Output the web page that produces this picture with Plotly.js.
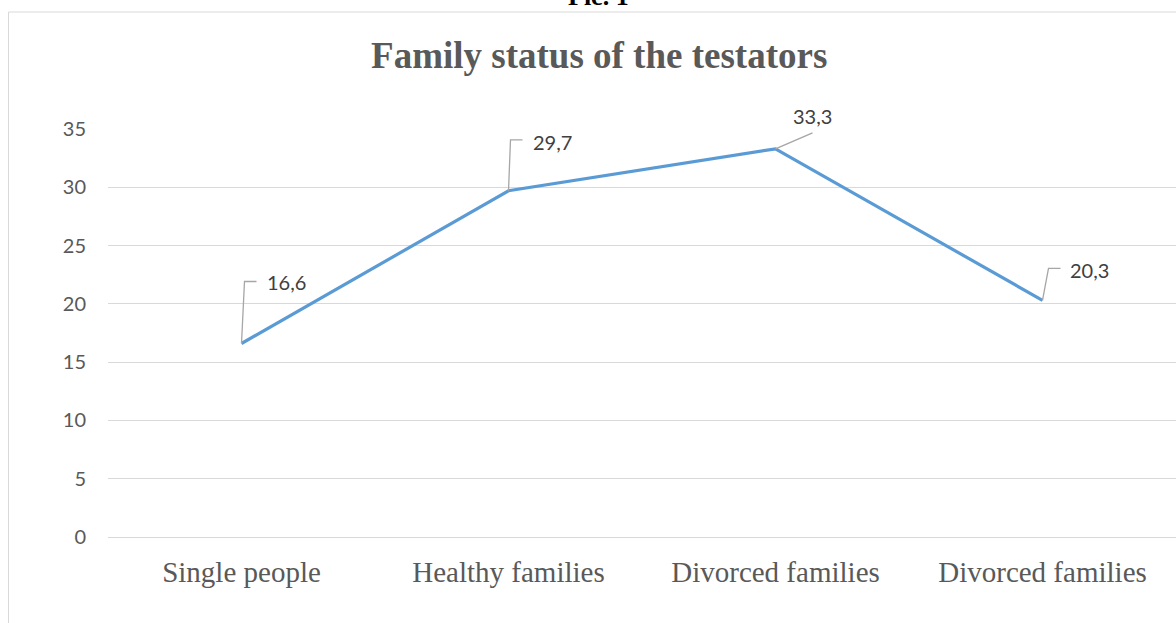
<!DOCTYPE html>
<html>
<head>
<meta charset="utf-8">
<script src="https://cdn.plot.ly/plotly-3.0.1.min.js"></script>
<style>
html,body{margin:0;padding:0;overflow:hidden;background:#fff;}
#chart{width:1176px;height:623px;}
</style>
</head>
<body>
<div id="chart"></div>
<script>
// ---- data ----
var categories = ["Single people", "Healthy families", "Divorced families", "Divorced families"];
var positions = [0, 1, 2, 3];
var values = [16.6, 29.7, 33.3, 20.3];
var valueLabels = ["16,6", "29,7", "33,3", "20,3"];
var yTicks = [0, 5, 10, 15, 20, 25, 30, 35];
var chartTitle = "Family status of the testators";
var pictureCaption = "Pic. 1";

// ---- style of leader lines / labels (pixel offsets from each point) ----
var leaderPaths = [
  "M0,0 L3,62 L15,62",
  "M0,0 L2,51 L14,51",
  "M0,0 L37,16",
  "M0,0 L6,32 L18,32"
];
var labelShift = [
  {dx: 23, dy: 61, anchor: "left"},
  {dx: 22, dy: 49, anchor: "left"},
  {dx: 37, dy: 33, anchor: "center"},
  {dx: 25, dy: 30, anchor: "left"}
];

var trace = {
  x: positions,
  y: values,
  type: "scatter",
  mode: "lines",
  line: {color: "#5b9bd5", width: 3.2},
  hoverinfo: "skip"
};

var shapes = [];
var annotations = [];
for (var i = 0; i < values.length; i++) {
  shapes.push({
    type: "path", xref: "x", yref: "y",
    xsizemode: "pixel", ysizemode: "pixel",
    xanchor: positions[i], yanchor: values[i],
    path: leaderPaths[i],
    line: {color: "#a6a6a6", width: 1.3}
  });
  annotations.push({
    x: positions[i], y: values[i], xref: "x", yref: "y",
    text: valueLabels[i], showarrow: false,
    xanchor: labelShift[i].anchor, yanchor: "middle",
    xshift: labelShift[i].dx, yshift: labelShift[i].dy,
    font: {family: "Lato, 'Open Sans', sans-serif", size: 20, color: "#404040"}
  });
}
// chart border
shapes.push({
  type: "rect", xref: "paper", yref: "paper",
  xsizemode: "pixel", ysizemode: "pixel",
  xanchor: 0, yanchor: 1,
  x0: -99.5, x1: 1200, y0: 117, y1: -700,
  line: {color: "#d9d9d9", width: 1}, fillcolor: "rgba(0,0,0,0)",
  layer: "below"
});
// caption cut at top
annotations.push({
  xref: "paper", yref: "paper", x: 0.459, y: 1,
  yshift: 133, yanchor: "middle", xanchor: "center",
  text: "<b>" + pictureCaption + "</b>", showarrow: false,
  font: {family: "'Liberation Serif', 'Times New Roman', serif", size: 26, color: "#000"}
});

var layout = {
  width: 1176, height: 623,
  margin: {l: 108, r: 0, t: 129, b: 86, pad: 0},
  paper_bgcolor: "#fff", plot_bgcolor: "#fff",
  showlegend: false,
  title: {
    text: "<b>" + chartTitle + "</b>",
    x: 0.5095, xanchor: "center", y: 0.912, yanchor: "middle",
    font: {family: "'Liberation Serif', 'Times New Roman', serif", size: 37, color: "#595959"}
  },
  xaxis: {
    range: [-0.5, 3.5],
    tickvals: positions, ticktext: categories,
    showgrid: false, zeroline: false, showline: false,
    ticks: "", ticklabelstandoff: 15,
    tickfont: {family: "'Liberation Serif', 'Times New Roman', serif", size: 29, color: "#595959"},
    fixedrange: true
  },
  yaxis: {
    range: [0, 35],
    tickvals: yTicks,
    showgrid: true, gridcolor: "#d9d9d9", gridwidth: 1,
    zeroline: true, zerolinecolor: "#d9d9d9", zerolinewidth: 1,
    showline: false, ticks: "", ticklabelstandoff: 21,
    tickfont: {family: "Lato, 'Open Sans', sans-serif", size: 20, color: "#595959"},
    fixedrange: true
  },
  shapes: shapes,
  annotations: annotations
};

Plotly.newPlot("chart", [trace], layout, {displayModeBar: false, staticPlot: true});
</script>
</body>
</html>
